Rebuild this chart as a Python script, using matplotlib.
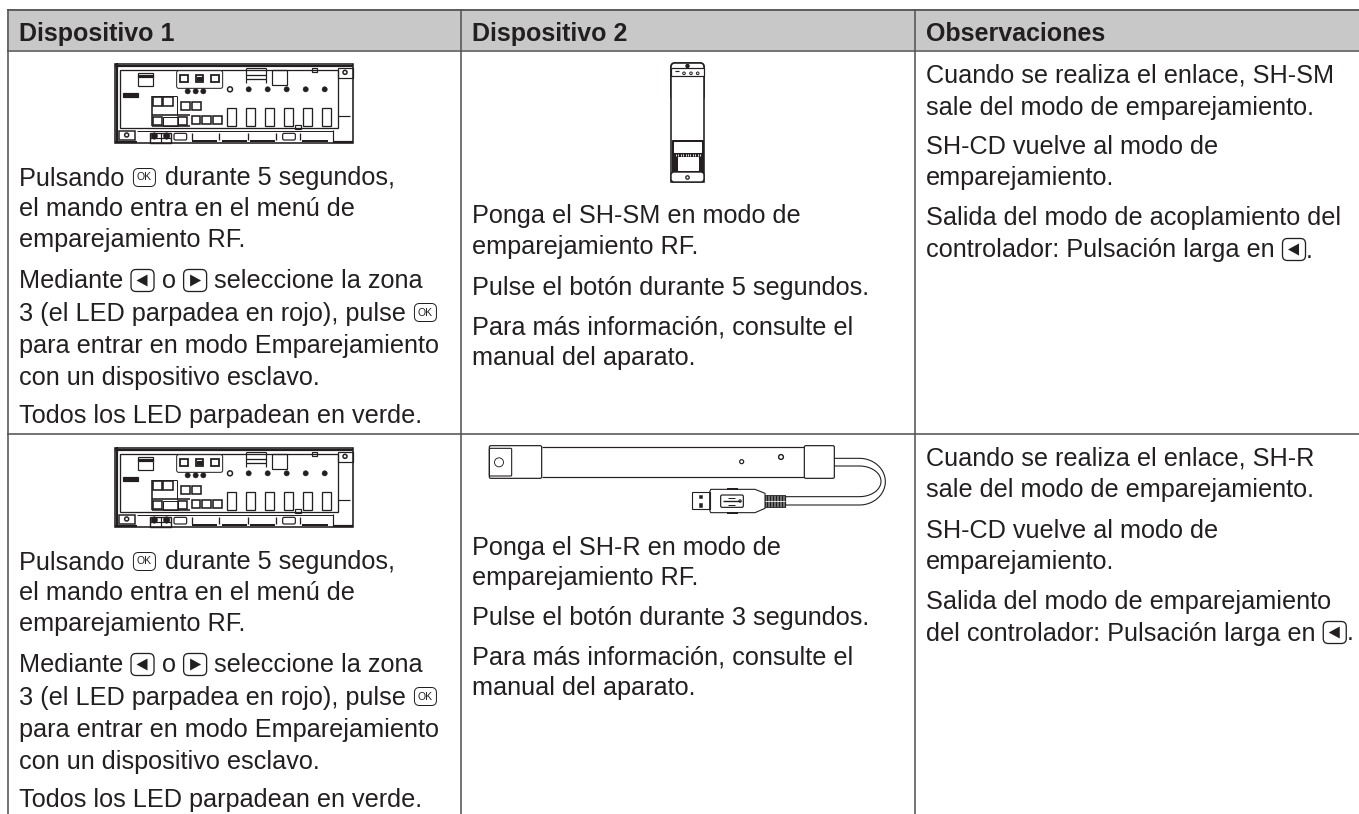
import numpy as np
import matplotlib
matplotlib.use("Agg")
import matplotlib.pyplot as plt
from matplotlib.patches import Rectangle, FancyBboxPatch, Circle, Polygon
from matplotlib.textpath import TextPath
from matplotlib.font_manager import FontProperties

# ---------- content ----------
OK, LEFT, RIGHT = "<ok>", "<left>", "<right>"
headers = ["Dispositivo 1", "Dispositivo 2", "Observaciones"]
header_x = [19, 472, 926]

col1_lines = [
    ["Pulsando ", OK, " durante 5 segundos,"],
    ["el mando entra en el menú de"],
    ["emparejamiento RF."],
    ["Mediante ", LEFT, " o ", RIGHT, " seleccione la zona"],
    ["3 (el LED parpadea en rojo), pulse ", OK],
    ["para entrar en modo Emparejamiento"],
    ["con un dispositivo esclavo."],
    ["Todos los LED parpadean en verde."],
]
col1_base = [185.5, 216.5, 247.5, 288.5, 320.5, 352.5, 384.5, 423.5]
row2_shift = 384

r1c2_lines = ["Ponga el SH-SM en modo de", "emparejamiento RF.",
              "Pulse el botón durante 5 segundos.",
              "Para más información, consulte el", "manual del aparato."]
r1c2_base = [223, 254, 294.5, 334.5, 365.5]
r2c2_lines = ["Ponga el SH-R en modo de", "emparejamiento RF.",
              "Pulse el botón durante 3 segundos.",
              "Para más información, consulte el", "manual del aparato."]
r2c2_base = [554.5, 585.5, 625.5, 664.5, 695.5]

r1c3_lines = [["Cuando se realiza el enlace, SH-SM"], ["sale del modo de emparejamiento."],
              ["SH-CD vuelve al modo de"], ["emparejamiento."],
              ["Salida del modo de acoplamiento del"],
              ["controlador: Pulsación larga en ", LEFT, "."]]
r1c3_base = [82.5, 114.5, 153.5, 184.5, 225.5, 257.5]
r2c3_lines = [["Cuando se realiza el enlace, SH-R"], ["sale del modo de emparejamiento."],
              ["SH-CD vuelve al modo de"], ["emparejamiento."],
              ["Salida del modo de emparejamiento"],
              ["del controlador: Pulsación larga en ", LEFT, "."]]
r2c3_base = [465.5, 497.5, 537.5, 569.5, 608.5, 640.5]

# ---------- canvas ----------
W, H = 1359, 814
INK = "#231f20"
FONT = "Liberation Sans"
FS = 18.2
FS_HEAD = 18.0
fig = plt.figure(figsize=(W / 100, H / 100), dpi=100)
ax = fig.add_axes([0, 0, 1, 1])
ax.set_xlim(0, W)
ax.set_ylim(H, 0)
ax.axis("off")
px = 0.72  # points per pixel
fp = FontProperties(family=FONT, size=FS)


def advance(s):
    a = TextPath((0, 0), "x" + s + "x", prop=fp).get_extents().width
    b = TextPath((0, 0), "xx", prop=fp).get_extents().width
    return (a - b) * 100 / 72


def rrect(x0, y0, x1, y1, r=2, lw=1.0, fc="none", ec=INK, z=3):
    ax.add_patch(FancyBboxPatch((x0 + r, y0 + r), x1 - x0 - 2 * r, y1 - y0 - 2 * r,
                                boxstyle=f"round,pad={r},rounding_size={r}",
                                fc=fc, ec=ec, lw=lw * px, zorder=z))


def rect(x0, y0, x1, y1, lw=1.0, fc="none", ec=INK, z=3):
    ax.add_patch(Rectangle((x0, y0), x1 - x0, y1 - y0, fc=fc, ec=ec, lw=lw * px, zorder=z))


def line(xs, ys, lw=1.0, c=INK, z=3):
    ax.plot(xs, ys, color=c, lw=lw * px, solid_capstyle="butt", zorder=z)


def circ(x, y, r, lw=1.0, fc="none", ec=INK, z=4):
    ax.add_patch(Circle((x, y), r, fc=fc, ec=ec, lw=lw * px, zorder=z))


def icon_ok(x, base):
    x += 2
    rrect(x, base - 17, x + 22, base + 1, r=5, lw=1.0)
    ax.text(x + 11, base - 8, "OK", fontsize=7.5, family=FONT, color=INK, ha="center", va="center")
    return 27


def icon_arrow(x, base, left=True):
    x += 1
    rrect(x, base - 19, x + 23, base + 3, r=5, lw=1.3)
    cx, cy = x + 11.5, base - 8
    pts = [(cx - 6, cy), (cx + 5, cy - 6), (cx + 5, cy + 6)] if left else \
          [(cx + 6, cy), (cx - 5, cy - 6), (cx - 5, cy + 6)]
    ax.add_patch(Polygon(pts, closed=True, fc=INK, ec="none", zorder=4))
    return 24.5


def draw_line(x, base, parts):
    for p in parts:
        if p == OK:
            x += icon_ok(x, base)
        elif p == LEFT:
            x += icon_arrow(x, base, True)
        elif p == RIGHT:
            x += icon_arrow(x, base, False)
        else:
            ax.text(x, base, p, fontsize=FS, family=FONT, color=INK, va="baseline", ha="left")
            x += advance(p)


# ---------- table ----------
GRID = "#555555"
ax.add_patch(Rectangle((7, 9), W - 7, 41, fc="#c8c8c8", ec="none", zorder=1))
line([7, W], [9.5, 9.5], 1.6, "#444444", 2)
line([7, W], [50.5, 50.5], 1.6, GRID, 2)
line([7, W], [433.5, 433.5], 1.6, GRID, 2)
for xv in (7.5, 460.5, 914.5):
    line([xv, xv], [9, H], 1.6, GRID, 2)

for hx, h in zip(header_x, headers):
    ax.text(hx, 41, h, fontsize=FS_HEAD, family=FONT, weight="bold", color=INK, va="baseline", ha="left")

for parts, b in zip(col1_lines, col1_base):
    draw_line(header_x[0], b, parts)
    draw_line(header_x[0], b + row2_shift, parts)
for t, b in zip(r1c2_lines, r1c2_base):
    draw_line(header_x[1], b, [t])
for t, b in zip(r2c2_lines, r2c2_base):
    draw_line(header_x[1], b, [t])
for parts, b in zip(r1c3_lines, r1c3_base):
    draw_line(header_x[2], b, parts)
for parts, b in zip(r2c3_lines, r2c3_base):
    draw_line(header_x[2], b, parts)


# ---------- illustrations (traced outlines, in px of the 3x zoom) ----------
def controller(dy):
    X = lambda v: v / 3
    Y = lambda v: v / 3 + dy
    def R(a, b, c, d, lw=1.2, fc="none"):
        rect(X(a), Y(b), X(c), Y(d), lw=lw, fc=fc)
    def L(a, b, c, d, lw=1.2):
        line([X(a), X(c)], [Y(b), Y(d)], lw=lw)
    # body
    R(346, 193, 1060, 428, lw=1.6)
    L(346, 197, 1060, 197, 2.2)
    L(350, 190, 350, 428, 2.2)
    L(346, 425, 410, 425, 2.2)
    L(1000, 425, 1060, 425, 2.2)
    R(360, 210, 1015, 385, lw=1.3, fc="white")
    R(1015, 205, 1060, 235, lw=1.2)
    circ(X(1035), Y(217), 2, 1.5)
    R(358, 392, 405, 420, lw=1.5)
    circ(X(380), Y(405), 2, 1.5)
    L(1015, 348, 1050, 348)
    L(1000, 390, 1000, 425)
    # display
    R(415, 218, 458, 258)
    R(415, 224, 458, 232, fc=INK)
    R(370, 280, 415, 292, fc=INK)
    # keypad
    rrect(X(530), Y(212), X(668), Y(265), r=2, lw=1.0, fc="white")
    for cx in (552, 598, 645):
        R(cx - 11, 224, cx + 11, 246, lw=1.8)
    R(590, 231, 606, 239, fc=INK)
    for cx in (563, 587, 610):
        circ(X(cx), Y(274), 2.6, 0.5, fc=INK)
    circ(X(690), Y(268), 2.5, 1.5, fc="white")
    for cx in (746, 803, 860, 917, 974):
        circ(X(cx), Y(268), 2.6, 0.5, fc=INK)
    # upper shapes
    L(737, 205, 737, 250)
    L(797, 205, 797, 250)
    L(737, 205, 797, 205)
    L(737, 226, 797, 226, 1.3)
    L(737, 238, 797, 238, 1.3)
    R(815, 210, 860, 255)
    R(935, 205, 950, 215)
    # relays
    for a in (680, 738, 795, 852, 908, 965):
        R(a, 325, a + 27, 378, lw=1.3)
    # small squares
    for a, b, c, d in ((458, 292, 485, 318), (490, 292, 518, 318), (543, 305, 570, 330),
                       (575, 305, 603, 330), (575, 348, 600, 373), (605, 348, 633, 373),
                       (638, 348, 665, 373), (458, 350, 485, 375), (535, 350, 562, 375)):
        R(a, b, c, d, lw=1.6)
    L(455, 345, 570, 345, 1.6)
    L(455, 288, 455, 378, 1.6)
    L(455, 378, 570, 378, 1.6)
    L(530, 288, 530, 345, 1.0)
    L(455, 288, 530, 288, 1.0)
    R(488, 350, 533, 378, lw=1.0)
    R(885, 375, 903, 388)
    # lower edge
    for a, c in ((575, 650), (665, 740), (750, 825), (905, 985)):
        L(a, 422, c, 422, 2.0)
    for a in (575, 658, 745, 828, 900):
        L(a, 398, a, 420, 1.3)
    L(410, 392, 1000, 392, 1.0)
    for a in (522, 848):
        rrect(X(a), Y(400), X(a + 38), Y(420), r=1.5, lw=1.2)
    R(450, 398, 512, 430, lw=1.4)
    L(450, 414, 512, 414, 1.2)
    L(482, 398, 482, 430, 1.2)
    for cx in (463, 500):
        circ(X(cx), Y(408), 3.2, 0.5, fc=INK)


controller(0)
controller(row2_shift)

# SH-SM module
rrect(671, 63, 704, 100, r=4, lw=1.6)
rect(671, 75, 704, 182, lw=1.6, fc="white")
rrect(671, 63, 704, 76, r=4, lw=1.6, fc="white")
rect(671, 68, 704, 76, lw=1.2, fc="white")
circ(687.5, 66, 1.6, 1.2, fc=INK)
for cx in (684, 691, 697.7):
    circ(cx, 73.3, 1.3, 1.0)
line([674.5, 679], [70.5, 70.5], 1.2)
rect(672, 140, 703, 172.5, lw=1, fc=INK)
rect(674, 141.5, 701, 152, lw=1, fc="white", ec="white", z=4)
rect(678, 157, 698, 170, lw=1, fc="white", ec="white", z=4)
for xv in np.arange(676, 701, 2.4):
    line([xv, xv], [153.5, 156], 0.9, "white", 5)
rrect(671, 172, 704, 182, r=3, lw=1.4, fc="white", z=4)
circ(687.5, 177.5, 1.7, 1.3, fc="white", z=5)

# temperature probe + USB
ox, oy = 460, 430
X = lambda v: ox + v / 3
Y = lambda v: oy + v / 3
line([X(245), X(1033)], [Y(52), Y(52)], 1.2)
line([X(245), X(1033)], [Y(140), Y(140)], 1.2)
rrect(X(88), Y(47), X(245), Y(145), r=1.5, lw=1.2)
rrect(X(88), Y(55), X(155), Y(138), r=1, lw=1.1)
circ(X(117), Y(97), 4.5, 0.9)
rrect(X(1033), Y(47), X(1123), Y(145), r=1.5, lw=1.2)
circ(X(845), Y(95), 2, 1.2)
circ(X(963), Y(81), 2.4, 1.4)
ang = np.linspace(-np.pi / 2, np.pi / 2, 40)
for rx, y_top, y_bot in ((78, 85, 225), (65, 108, 200)):
    xa = 1198 + rx * np.cos(ang)
    ya = (y_top + y_bot) / 2 + (y_bot - y_top) / 2 * np.sin(ang)
    line(np.r_[X(1123), X(xa), X(975)], np.r_[Y(y_top), Y(ya), Y(y_bot)], 1.1)
rect(X(915), Y(195), X(975), Y(232), lw=0.8, fc="#777777")
for v in range(920, 975, 9):
    line([X(v), X(v)], [Y(195), Y(232)], 1.2)
line([X(915), X(975)], [Y(213), Y(213)], 0.8, "white", 4)
ax.add_patch(Polygon([(X(752), Y(178)), (X(885), Y(178)), (X(915), Y(190)), (X(915), Y(235)),
                      (X(885), Y(248)), (X(752), Y(248)), (X(749), Y(240)), (X(749), Y(186))],
                     closed=True, fc="white", ec=INK, lw=1.1 * px, zorder=3))
line([X(800), X(835)], [Y(178), Y(178)], 2)
line([X(800), X(835)], [Y(248), Y(248)], 2)
rect(X(695), Y(187), X(750), Y(238), lw=1.1)
rect(X(717), Y(195), X(726), Y(205), lw=0.5, fc=INK)
rect(X(717), Y(220), X(726), Y(230), lw=0.5, fc=INK)
rrect(X(782), Y(195), X(850), Y(232), r=1.5, lw=1.2)
line([X(788), X(842)], [Y(213), Y(213)], 1.4)
line([X(805), X(825)], [Y(203), Y(203)], 1.0)
line([X(805), X(825)], [Y(224), Y(224)], 1.0)
circ(X(840), Y(213), 1.2, 1.0)

fig.savefig("out.png", dpi=100, facecolor="white")
